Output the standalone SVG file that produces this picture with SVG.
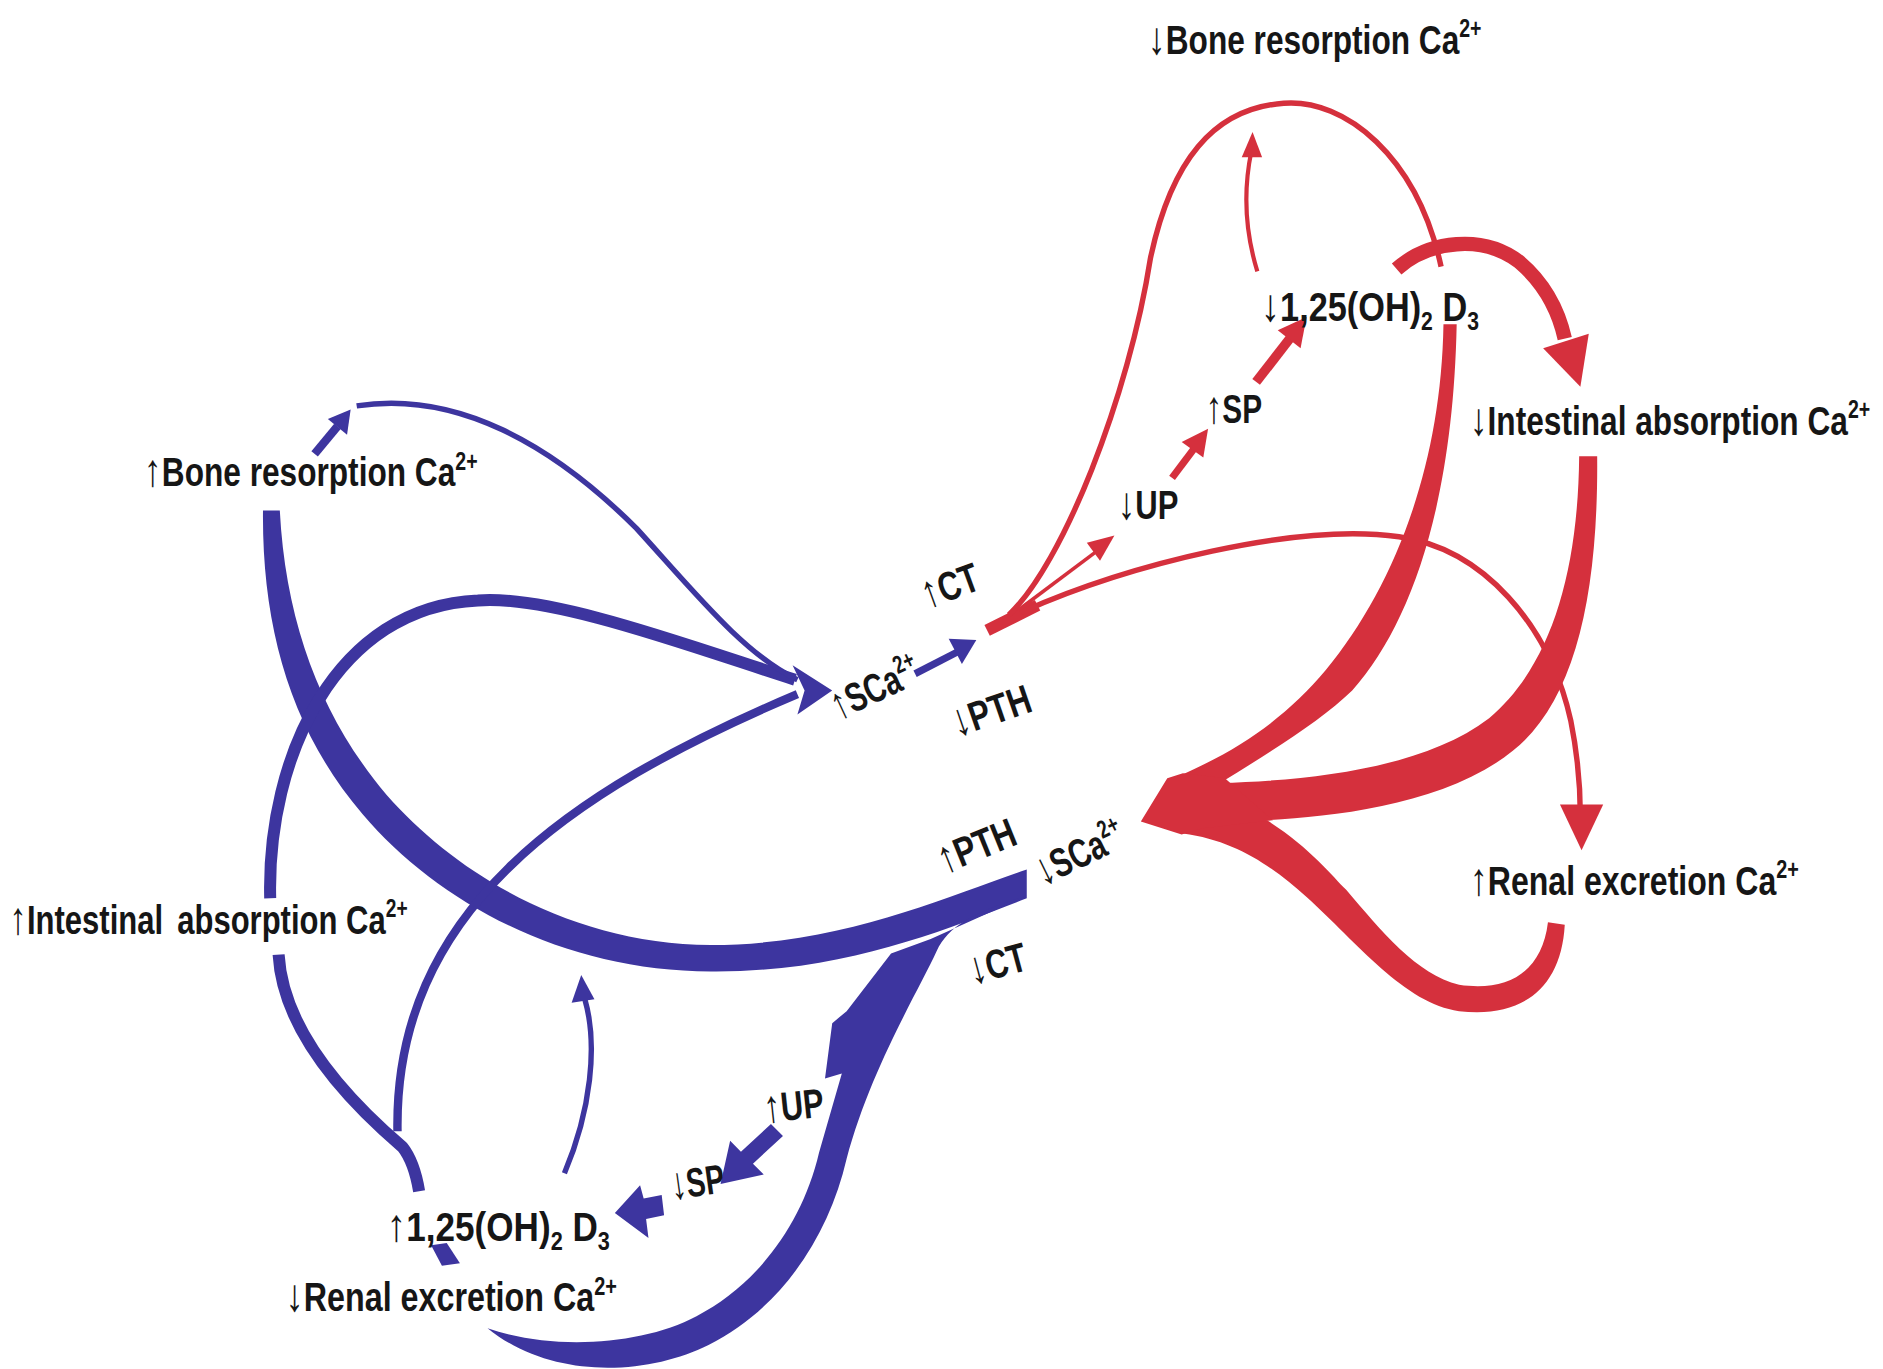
<svg xmlns="http://www.w3.org/2000/svg" width="1883" height="1369" viewBox="0 0 1883 1369">
<style>
.t{font-family:"Liberation Sans",Arial,sans-serif;font-weight:bold;font-size:34px;fill:#161616}
.ar{font-size:38px}
.sup{font-size:21px}
.sub{font-size:21px}
.r{fill:none;stroke:#d5303d;stroke-linecap:butt}
.rf{fill:#d5303d}
.b{fill:none;stroke:#3d359f;stroke-linecap:butt}
.bf{fill:#3d359f}
</style>
<rect width="1883" height="1369" fill="#ffffff"/>
<g transform="scale(1.20089)">
<g id="connectors">
<g id="red">
<path class="r" d="M822,525 L864,504" stroke-width="10"/>
<path class="r" d="M840,512 C885,470 940,330 958,215 C975,135 1010,90 1069,86 C1120,82 1180,130 1200,222" stroke-width="4.5"/>
<path class="r" d="M848,508 L912,460" stroke-width="3"/>
<polygon class="rf" points="928,446 916,467 905,452"/>
<path class="r" d="M850,510 C940,470 1080,435 1165,447 C1235,457 1290,520 1308,600 C1315,635 1316,660 1316,680" stroke-width="4.5"/>
<polygon class="rf" points="1317,708 1299,670 1335,670"/>
<path class="r" d="M1047,226 C1036,190 1036,155 1042,126" stroke-width="3.5"/>
<polygon class="rf" points="1043,110 1034,131 1051,131"/>
<path class="r" d="M976,398 L994,374" stroke-width="6"/>
<polygon class="rf" points="1006,357 1002,381 984,368"/>
<path class="r" d="M1046,318 L1074,282" stroke-width="8"/>
<polygon class="rf" points="1088,264 1083,290 1064,275"/>
<path class="r" d="M1163,224 C1190,200 1235,195 1265,218 C1285,235 1297,255 1303,282" stroke-width="12"/>
<polygon class="rf" points="1316,322 1323,278 1285,290"/>
<path class="rf" d="M1202,270 L1213,270 C1210,420 1175,520 1126,575 C1100,600 1060,625 1016,652 L982,646 C1035,623 1072,596 1104,558 C1160,490 1200,390 1202,270 Z"/>
<path class="rf" d="M1315,380 L1330,380 C1331,500 1310,585 1260,625 C1205,670 1110,680 1055,683 L1016,652 C1090,650 1185,640 1240,598 C1290,556 1314,480 1315,380 Z"/>
<path class="rf" d="M1289,768 L1303,770 C1300,825 1265,848 1215,842 C1170,836 1130,785 1088,747 C1060,722 1030,700 985,694 L982,686 L1030,684 L1055,683 C1090,705 1110,730 1121,741 C1150,775 1180,812 1215,820 C1255,826 1284,810 1289,768 Z"/>
<polygon class="rf" points="950,684 972,648 985,644 1020,648 1060,683 1000,690 984,695"/>
</g>
<g id="blue">
<path class="bf" d="M855,724 C790,746 700,787 592,787 C478,786 382,730 322,662 C268,598 238,520 233,425 L219,425 C218,522 242,608 302,678 C365,752 470,809 592,809 C705,810 792,772 855,748 Z"/>
<path class="bf" d="M855,746 C815,758 790,770 780,792 C765,825 725,890 705,965 C690,1030 650,1090 590,1120 C540,1145 460,1150 406,1106 C460,1125 535,1120 580,1096 C630,1070 668,1020 682,960 L701,894 L687,898 L693,852 L705,842 L742,794 L775,782 Z"/>
<polygon class="bf" points="600,986 608,950 617,959 642,936 652,946 627,969 636,978"/>
<polygon class="bf" points="512,1010 533,987 536,998 551,995 553,1012 538,1015 540,1031"/>
<path class="b" d="M470,977 C492,925 498,870 487,832" stroke-width="4.5"/>
<polygon class="bf" points="484,812 476,835 495,832"/>
<path class="b" d="M225,748 C222,630 280,505 398,500 C460,495 580,540 662,566" stroke-width="10"/>
<path class="b" d="M331,942 C328,760 470,660 664,578" stroke-width="7"/>
<path class="b" d="M232,795 C236,865 300,925 335,955 C343,965 347,980 349,992" stroke-width="10"/>
<polygon class="bf" points="359,1037 372,1035 383,1052 368,1054"/>
<path class="b" d="M297,338 C380,325 460,370 530,440 C580,495 620,545 664,566" stroke-width="4.5"/>
<path class="b" d="M262,378 L281,355" stroke-width="7"/>
<polygon class="bf" points="292,341 289,362 273,349"/>
<polygon class="bf" points="693,575 660,554 670,575 664,595"/>
<path class="b" d="M762,561 L797,543" stroke-width="6"/>
<polygon class="bf" points="813,533 801,553 790,532"/>
</g>
</g>
<g id="n-bone-top"><text class="t" transform="translate(956,45) scale(0.775,1)"><tspan class="ar">↓</tspan>Bone resorption Ca<tspan class="sup" dy="-14">2+</tspan></text></g>
<g id="n-d3-red"><text class="t" transform="translate(1050,267) scale(0.84,1)"><tspan class="ar">↓</tspan>1,25(OH)<tspan class="sub" dy="8">2</tspan><tspan dy="-8"> D</tspan><tspan class="sub" dy="8">3</tspan></text></g>
<g id="n-int-right"><text class="t" transform="translate(1224,362) scale(0.775,1)"><tspan class="ar">↓</tspan>Intestinal absorption Ca<tspan class="sup" dy="-14">2+</tspan></text></g>
<g id="n-up-red"><text class="t" transform="translate(931,432) scale(0.76,1)"><tspan class="ar">↓</tspan>UP</text></g>
<g id="n-sp-red"><text class="t" transform="translate(1004,352) scale(0.73,1)"><tspan class="ar">↑</tspan>SP</text></g>
<g id="n-ct-top"><text class="t" transform="translate(772,507) rotate(-20) scale(0.76,1)"><tspan class="ar">↑</tspan>CT</text></g>
<g id="n-pth-top"><text class="t" transform="translate(797,614) rotate(-19) scale(0.78,1)"><tspan class="ar">↓</tspan>PTH</text></g>
<g id="n-sca-top"><text class="t" transform="translate(698,600) rotate(-25) scale(0.72,1)"><tspan class="ar">↑</tspan>SCa<tspan class="sup" dy="-14">2+</tspan></text></g>
<g id="n-pth-bot"><text class="t" transform="translate(786,728) rotate(-22) scale(0.78,1)"><tspan class="ar">↑</tspan>PTH</text></g>
<g id="n-sca-bot"><text class="t" transform="translate(869,738) rotate(-26) scale(0.72,1)"><tspan class="ar">↓</tspan>SCa<tspan class="sup" dy="-14">2+</tspan></text></g>
<g id="n-ct-bot"><text class="t" transform="translate(810,820) rotate(-15) scale(0.76,1)"><tspan class="ar">↓</tspan>CT</text></g>
<g id="n-renal-right"><text class="t" transform="translate(1224,745) scale(0.785,1)"><tspan class="ar">↑</tspan>Renal excretion Ca<tspan class="sup" dy="-14">2+</tspan></text></g>
<g id="n-bone-left"><text class="t" transform="translate(120,405) scale(0.775,1)"><tspan class="ar">↑</tspan>Bone resorption Ca<tspan class="sup" dy="-14">2+</tspan></text></g>
<g id="n-int-left"><text class="t" transform="translate(8,778) scale(0.76,1)"><tspan class="ar">↑</tspan>Intestinal<tspan dx="6"> absorption Ca</tspan><tspan class="sup" dy="-14">2+</tspan></text></g>
<g id="n-up-blue"><text class="t" transform="translate(637,935) rotate(-6) scale(0.76,1)"><tspan class="ar">↑</tspan>UP</text></g>
<g id="n-sp-blue"><text class="t" transform="translate(560,999) rotate(-8) scale(0.7,1)"><tspan class="ar">↓</tspan>SP</text></g>
<g id="n-d3-blue"><text class="t" transform="translate(322,1033) scale(0.86,1)"><tspan class="ar">↑</tspan>1,25(OH)<tspan class="sub" dy="8">2</tspan><tspan dy="-8"> D</tspan><tspan class="sub" dy="8">3</tspan></text></g>
<g id="n-renal-left"><text class="t" transform="translate(238,1092) scale(0.79,1)"><tspan class="ar">↓</tspan>Renal excretion Ca<tspan class="sup" dy="-14">2+</tspan></text></g>
</g>
</svg>
